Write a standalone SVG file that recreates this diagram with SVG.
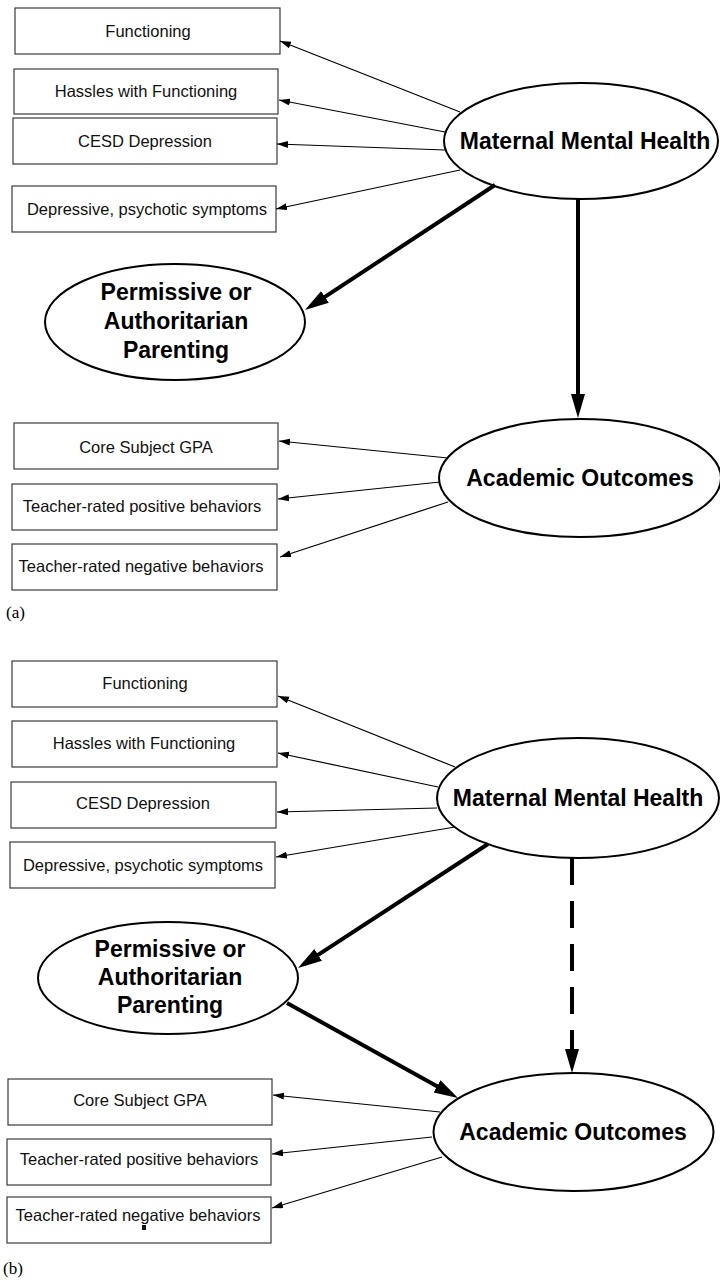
<svg xmlns="http://www.w3.org/2000/svg" width="720" height="1281" viewBox="0 0 720 1281">
<style>
.box{fill:#fff;stroke:#3a3a3a;stroke-width:1.2}
.ell{fill:#fff;stroke:#000;stroke-width:2}
.bt{font-family:"Liberation Sans",Arial,sans-serif;font-size:16.5px;fill:#111;text-anchor:middle}
.et{font-family:"Liberation Sans",Arial,sans-serif;font-size:23px;font-weight:bold;fill:#000;text-anchor:middle}
.cap{font-family:"Liberation Serif","Times New Roman",serif;font-size:17px;fill:#000}
.thin{stroke:#000;stroke-width:1.2;fill:none;marker-end:url(#ah)}
.thick{stroke:#000;stroke-width:4;fill:none;marker-end:url(#AH)}
.dash{stroke:#000;stroke-width:4;fill:none;stroke-dasharray:27 16;marker-end:url(#AH)}
</style>
<defs>
<marker id="ah" markerUnits="userSpaceOnUse" markerWidth="12" markerHeight="8" refX="11" refY="3.5" orient="auto"><path d="M0,0 L11,3.5 L0,7 z" fill="#000"/></marker>
<marker id="AH" markerUnits="userSpaceOnUse" markerWidth="25" markerHeight="15" refX="17" refY="7" orient="auto"><path d="M0,0 L24,7 L0,14 z" fill="#000"/></marker>
</defs>
<rect width="720" height="1281" fill="#fff"/>

<!-- Panel (a) -->
<g id="a_functioning"><rect class="box" x="15" y="8" width="265" height="46"/><text class="bt" x="148" y="37">Functioning</text></g>
<g id="a_hassles"><rect class="box" x="14" y="69" width="264" height="45"/><text class="bt" x="146" y="97">Hassles with Functioning</text></g>
<g id="a_cesd"><rect class="box" x="13" y="118" width="264" height="46"/><text class="bt" x="145" y="147">CESD Depression</text></g>
<g id="a_depressive"><rect class="box" x="12" y="186" width="264" height="46"/><text class="bt" x="147" y="215">Depressive, psychotic symptoms</text></g>
<g id="a_maternal"><ellipse class="ell" cx="581" cy="141" rx="137" ry="58"/><text class="et" x="585" y="149">Maternal Mental Health</text></g>
<g id="a_parenting"><ellipse class="ell" cx="175" cy="322" rx="130" ry="58"/><text class="et" x="176" y="300">Permissive or</text><text class="et" x="176" y="329">Authoritarian</text><text class="et" x="176" y="358">Parenting</text></g>
<g id="a_academic"><ellipse class="ell" cx="580" cy="478" rx="141" ry="59"/><text class="et" x="580" y="486">Academic Outcomes</text></g>
<g id="a_gpa"><rect class="box" x="14" y="423" width="264" height="46"/><text class="bt" x="146" y="453">Core Subject GPA</text></g>
<g id="a_positive"><rect class="box" x="12" y="484" width="265" height="46"/><text class="bt" x="142" y="512">Teacher-rated positive behaviors</text></g>
<g id="a_negative"><rect class="box" x="12" y="544" width="265" height="46"/><text class="bt" x="141" y="572">Teacher-rated negative behaviors</text></g>
<text class="cap" x="6" y="618">(a)</text>

<!-- Panel (b) -->
<g id="b_functioning"><rect class="box" x="12" y="661" width="265" height="46"/><text class="bt" x="145" y="689">Functioning</text></g>
<g id="b_hassles"><rect class="box" x="12" y="721" width="265" height="46"/><text class="bt" x="144" y="749">Hassles with Functioning</text></g>
<g id="b_cesd"><rect class="box" x="11" y="782" width="265" height="46"/><text class="bt" x="143" y="809">CESD Depression</text></g>
<g id="b_depressive"><rect class="box" x="10" y="842" width="265" height="46"/><text class="bt" x="143" y="871">Depressive, psychotic symptoms</text></g>
<g id="b_maternal"><ellipse class="ell" cx="578" cy="798" rx="141" ry="60"/><text class="et" x="578" y="806">Maternal Mental Health</text></g>
<g id="b_parenting"><ellipse class="ell" cx="168" cy="978" rx="130" ry="56"/><text class="et" x="170" y="957">Permissive or</text><text class="et" x="170" y="985">Authoritarian</text><text class="et" x="170" y="1013">Parenting</text></g>
<g id="b_academic"><ellipse class="ell" cx="573.5" cy="1132" rx="140" ry="59"/><text class="et" x="573" y="1140">Academic Outcomes</text></g>
<g id="b_gpa"><rect class="box" x="8" y="1079" width="264" height="46"/><text class="bt" x="140" y="1106">Core Subject GPA</text></g>
<g id="b_positive"><rect class="box" x="7" y="1139" width="264" height="46"/><text class="bt" x="139" y="1165">Teacher-rated positive behaviors</text></g>
<g id="b_negative"><rect class="box" x="7" y="1197" width="264" height="46"/><text class="bt" x="138" y="1221">Teacher-rated negative behaviors</text><rect x="142" y="1225" width="4" height="5" fill="#111"/></g>
<text class="cap" x="3" y="1274">(b)</text>

<g id="connectors">
<line class="thin" x1="460" y1="112" x2="280" y2="41"/>
<line class="thin" x1="445" y1="132" x2="279" y2="100"/>
<line class="thin" x1="445" y1="150" x2="277" y2="144"/>
<line class="thin" x1="460" y1="170" x2="276" y2="209"/>
<line class="thick" x1="495" y1="185" x2="310.8" y2="306.2"/>
<line class="thick" x1="578" y1="199" x2="578" y2="411"/>
<line class="thin" x1="448" y1="458" x2="279" y2="441"/>
<line class="thin" x1="440" y1="482" x2="278" y2="499"/>
<line class="thin" x1="448" y1="502" x2="280" y2="557"/>

<line class="thin" x1="455" y1="767" x2="278" y2="696"/>
<line class="thin" x1="438" y1="787" x2="278" y2="753"/>
<line class="thin" x1="437" y1="808" x2="277" y2="812"/>
<line class="thin" x1="455" y1="827" x2="276" y2="857"/>
<line class="thick" x1="488" y1="844" x2="303.9" y2="964.2"/>
<line class="thick" x1="287" y1="1003" x2="451.9" y2="1094.6"/>
<line class="dash" x1="572" y1="858" x2="572" y2="1066"/>
<line class="thin" x1="440" y1="1112" x2="273" y2="1095"/>
<line class="thin" x1="432" y1="1137" x2="272" y2="1154"/>
<line class="thin" x1="442" y1="1157" x2="272" y2="1208"/>
</g>
</svg>
